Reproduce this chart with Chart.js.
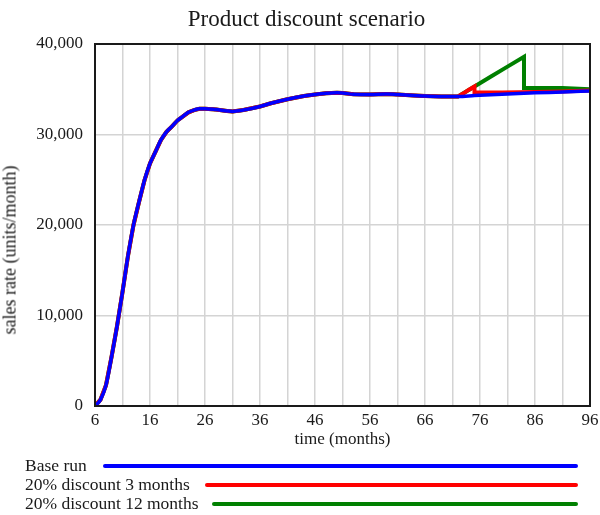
<!DOCTYPE html>
<html>
<head>
<meta charset="utf-8">
<script src="https://cdn.jsdelivr.net/npm/chart.js@4/dist/chart.umd.min.js"></script>
<style>
  html, body { margin: 0; padding: 0; background: #fff; }
  #wrap { position: relative; width: 600px; height: 515px; overflow: hidden; font-family: "Liberation Serif", "Times New Roman", serif; color: #1a1a1a; }
  #c { position: absolute; left: 0; top: 0; }
  .title { position: absolute; left: 0; width: 613px; top: 6px; text-align: center; font-size: 23px; }
  .ytitle { position: absolute; left: 10px; top: 250px; font-size: 18px; white-space: nowrap; transform: translate(-50%, -50%) rotate(-90deg); }
  .xtitle { position: absolute; left: 0; width: 685px; top: 429px; text-align: center; font-size: 17px; }
  .leg { position: absolute; left: 25px; font-size: 17.5px; white-space: nowrap; line-height: 20px; }
  .legline { position: absolute; height: 4px; border-radius: 2px; }
</style>
</head>
<body>
<div id="wrap">
  <canvas id="c" width="600" height="515"></canvas>
  <div class="title">Product discount scenario</div>
  <div class="ytitle">sales rate (units/month)</div>
  <div class="xtitle">time (months)</div>
  <div class="leg" style="top:455px;">Base run</div>
  <div class="leg" style="top:474px;">20% discount 3 months</div>
  <div class="leg" style="top:493px;">20% discount 12 months</div>
  <div class="legline" style="left:103px; width:475px; top:464px; background:#0000ff;"></div>
  <div class="legline" style="left:205px; width:373px; top:483px; background:#ff0000;"></div>
  <div class="legline" style="left:212px; width:366px; top:502px; background:#008000;"></div>
</div>
<script>
// ---- data ----
const seriesNames = ["Base run", "20% discount 3 months", "20% discount 12 months"];

const baseTimes  = [6, 7, 8, 9, 10, 11, 12, 13, 14, 15, 16, 17, 18, 19, 20, 21, 22, 23, 24, 25, 26, 28, 30, 31, 33, 36, 38, 41, 44, 46, 48, 50, 51, 53, 56, 59, 61, 64, 66, 69, 72, 75, 80, 86, 91, 96];
const baseValues = [0, 700, 2300, 5400, 8800, 12600, 16600, 20000, 22550, 24950, 26800, 28100, 29400, 30300, 30900, 31550, 32000, 32450, 32700, 32850, 32850, 32750, 32600, 32550, 32700, 33100, 33450, 33900, 34250, 34420, 34550, 34600, 34580, 34450, 34420, 34480, 34420, 34320, 34250, 34200, 34200, 34300, 34450, 34600, 34700, 34820];

// discount runs follow the base run until month 72, then diverge
const discountStart = 72;
const disc3Times  = [72, 73, 74, 75, 75, 80, 86, 91, 96];
const disc3Values = [34200, 34550, 34950, 35300, 34650, 34650, 34700, 34750, 34850];
const disc12Times  = [72, 75, 78, 81, 84, 84, 88, 91, 96];
const disc12Values = [34200, 35300, 36400, 37500, 38600, 35150, 35150, 35150, 35000];

const xGridValues  = [6, 11, 16, 21, 26, 31, 36, 41, 46, 51, 56, 61, 66, 71, 76, 81, 86, 91, 96];
const xLabelValues = [6, 16, 26, 36, 46, 56, 66, 76, 86, 96];
const yTickValues  = [0, 10000, 20000, 30000, 40000];

// ---- build datasets ----
function pts(ts, vs) { return ts.map((t, i) => ({ x: t, y: vs[i] })); }
const basePts = pts(baseTimes, baseValues);
const beforePts = basePts.filter(p => p.x < discountStart);
const d3Pts  = beforePts.concat(pts(disc3Times, disc3Values));
const d12Pts = beforePts.concat(pts(disc12Times, disc12Values));

const framePlugin = {
  id: 'frame',
  afterDatasetsDraw(chart) {
    const a = chart.chartArea, ctx = chart.ctx;
    ctx.save();
    ctx.strokeStyle = '#1a1a1a';
    ctx.lineWidth = 2;
    ctx.strokeRect(a.left, a.top, a.right - a.left, a.bottom - a.top);
    ctx.restore();
  }
};

const tickFont = { family: '"Liberation Serif", "Times New Roman", serif', size: 17 };

new Chart(document.getElementById('c'), {
  type: 'line',
  data: {
    datasets: [
      { label: seriesNames[2], data: d12Pts, borderColor: '#008000', borderWidth: 4, pointRadius: 0, tension: 0, order: 3 },
      { label: seriesNames[1], data: d3Pts,  borderColor: '#ff0000', borderWidth: 4, pointRadius: 0, tension: 0, order: 2 },
      { label: seriesNames[0], data: basePts, borderColor: '#0000ff', borderWidth: 3.5, pointRadius: 0, cubicInterpolationMode: 'monotone', order: 1 }
    ]
  },
  options: {
    responsive: false,
    animation: false,
    layout: { padding: { top: 44, right: 10, left: 0, bottom: 0 } },
    plugins: { legend: { display: false }, tooltip: { enabled: false }, title: { display: false } },
    scales: {
      x: {
        type: 'linear', min: 6, max: 96,
        afterBuildTicks(axis) { axis.ticks = xGridValues.map(v => ({ value: v })); },
        afterFit(scale) { scale.height = 109; scale.paddingLeft = 0; scale.paddingRight = 0; },
        grid: { color: '#d4d4d4', lineWidth: 1.5, drawTicks: false },
        border: { display: false },
        ticks: {
          autoSkip: false, maxRotation: 0, padding: 4, color: '#1a1a1a', font: tickFont,
          callback: v => xLabelValues.includes(v) ? String(v) : ''
        }
      },
      y: {
        type: 'linear', min: 0, max: 40000,
        afterBuildTicks(axis) { axis.ticks = yTickValues.map(v => ({ value: v })); },
        afterFit(scale) { scale.width = 95; scale.paddingTop = 0; scale.paddingBottom = 0; },
        grid: { color: '#d4d4d4', lineWidth: 1.5, drawTicks: false },
        border: { display: false },
        ticks: {
          padding: 12, color: '#1a1a1a', font: tickFont,
          callback: v => v.toLocaleString('en-US')
        }
      }
    }
  },
  plugins: [framePlugin]
});
</script>
</body>
</html>
